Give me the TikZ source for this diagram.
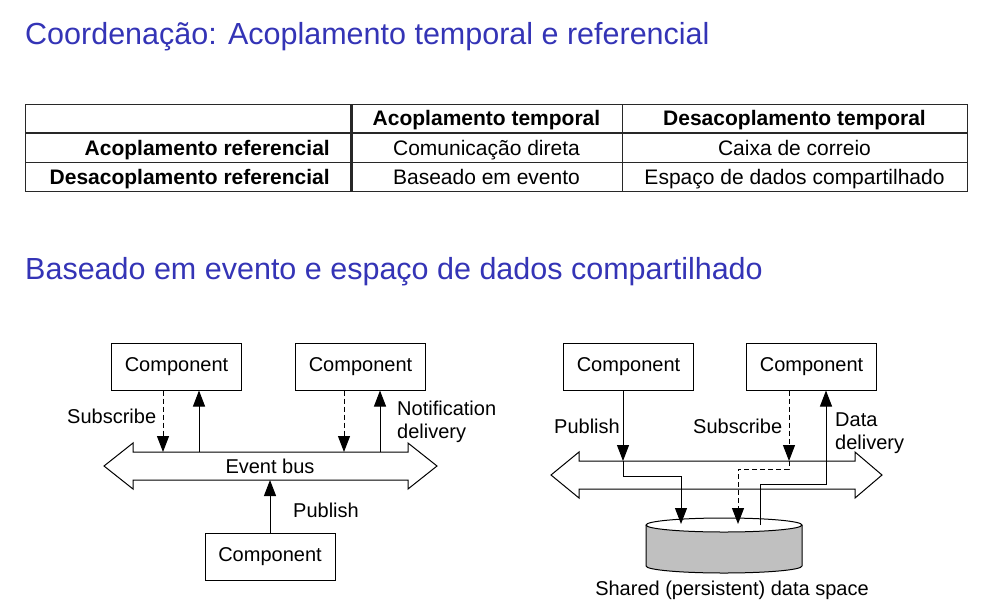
\documentclass[tikz,border=0pt]{standalone}
\usepackage{fontspec}
\setmainfont{Liberation Sans}
\usetikzlibrary{arrows.meta,calc}
\definecolor{titleblue}{RGB}{52,52,182}
\definecolor{tabline}{RGB}{40,40,40}
\definecolor{cylgray}{RGB}{192,192,192}
\begin{document}
\begin{tikzpicture}[x=1pt,y=1pt,
  comp/.style={draw, line width=1pt, minimum width=130pt, minimum height=47pt, inner sep=0pt, font=\fontsize{20}{24}\selectfont},
  lbl/.style={inner sep=0pt, font=\fontsize{20}{23}\selectfont, align=left},
  tabt/.style={inner sep=0pt, font=\fontsize{21}{25}\selectfont},
  tabb/.style={inner sep=0pt, font=\fontsize{21}{25}\selectfont\bfseries},
  ttl/.style={inner sep=0pt, anchor=base west, text=titleblue, font=\fontsize{30.5}{36}\selectfont},
  tline/.style={draw=tabline, line width=1pt},
  conn/.style={line width=1pt, -{Triangle[length=16pt,width=12pt]}},
  dconn/.style={conn, dash pattern=on 5pt off 3pt},
  bus/.style={draw, line width=1pt, fill=white, line join=miter}
]
\useasboundingbox (0,0) rectangle (987,-608);

% titles
\node[ttl] (t1) at (25,-44) {Coordenação: Acoplamento temporal e referencial};
\node[ttl] (t2) at (25,-279) {Baseado em evento e espaço de dados compartilhado};

% table
\draw[tline] (25,-104) rectangle (967,-191);
\draw[tline, line width=2.5pt] (25,-133) -- (967,-133);
\draw[tline] (25,-162) -- (967,-162);
\draw[tline, line width=3pt] (351,-104) -- (351,-191);
\draw[tline] (622,-104) -- (622,-191);
\node[tabb, anchor=base] (h1) at (486.5,-125) {Acoplamento temporal};
\node[tabb, anchor=base] (h2) at (794.5,-125) {Desacoplamento temporal};
\node[tabb, anchor=base east] (r1) at (330,-155) {Acoplamento referencial};
\node[tabb, anchor=base east] (r2) at (330,-184) {Desacoplamento referencial};
\node[tabt, anchor=base] (a11) at (486.5,-155) {Comunicação direta};
\node[tabt, anchor=base] (a12) at (794.5,-155) {Caixa de correio};
\node[tabt, anchor=base] (a21) at (486.5,-184) {Baseado em evento};
\node[tabt, anchor=base] (a22) at (794.5,-184) {Espaço de dados compartilhado};

% ---------- left diagram ----------
\draw[bus] (104,-466) -- (133,-443) -- (133,-452) -- (408,-452) -- (408,-443) -- (437,-466)
  -- (408,-489) -- (408,-480) -- (133,-480) -- (133,-489) -- cycle;
\node[lbl, anchor=base] (eb) at (270,-473) {Event bus};

\node[comp] (c1) at (176.5,-366.5) {Component};
\node[comp] (c2) at (360.5,-366.5) {Component};
\node[comp] (c3) at (270,-556.5) {Component};

\coordinate (s1) at (163,-452);
\coordinate (n1) at (199,-452);
\coordinate (s2) at (344,-452);
\coordinate (n2) at (380,-452);
\coordinate (p1) at (270,-480);
\draw[dconn] (c1.south -| s1) -- (s1);
\draw[conn] (n1) -- (c1.south -| n1);
\draw[dconn] (c2.south -| s2) -- (s2);
\draw[conn] (n2) -- (c2.south -| n2);
\draw[conn] (c3.north) -- (p1);

\node[lbl, anchor=base west] (lsub) at (67,-423) {Subscribe};
\node[lbl, anchor=base west] (lnot) at (397,-438) {Notification\\delivery};
\node[lbl, anchor=base west] (lpub) at (293,-517) {Publish};

% ---------- right diagram ----------
\draw[bus] (551,-475) -- (579,-452) -- (579,-461) -- (855,-461) -- (855,-452) -- (882,-475)
  -- (855,-498) -- (855,-489) -- (579,-489) -- (579,-498) -- cycle;

% cylinder
\fill[cylgray] (646,-525) -- (646,-566) arc[start angle=180, end angle=360, x radius=78pt, y radius=7pt]
  -- (802,-525) -- cycle;
\draw[line width=1pt] (646,-525) -- (646,-566) arc[start angle=180, end angle=360, x radius=78pt, y radius=7pt]
  -- (802,-525);
\draw[line width=1pt, fill=white] (724,-525) ellipse[x radius=78pt, y radius=7pt];
\node[lbl, anchor=base] (dsl) at (732,-595) {Shared (persistent) data space};

\node[comp] (c4) at (628.5,-366.5) {Component};
\node[comp] (c5) at (811.5,-366.5) {Component};

\coordinate (q1) at (623,-461);
\coordinate (q2) at (623,-476);
\coordinate (q3) at (681,-476);
\coordinate (q4) at (681,-524);
\draw[conn] (c4.south -| q1) -- (q1);
\draw[conn] (q1) -- (q2) -- (q3) -- (q4);

\coordinate (u1) at (789,-461);
\coordinate (u2) at (789,-469);
\coordinate (u3) at (738,-469);
\coordinate (u4) at (738,-524);
\draw[dconn] (c5.south -| u1) -- (u1);
\draw[dconn] (u1) -- (u2) -- (u3) -- (u4);

\coordinate (v1) at (760,-525);
\coordinate (v2) at (760,-484);
\coordinate (v3) at (826,-484);
\draw[conn] (v1) -- (v2) -- (v3) -- (c5.south -| v3);

\node[lbl, anchor=base west] (rpub) at (554,-433) {Publish};
\node[lbl, anchor=base west] (rsub) at (693,-433) {Subscribe};
\node[lbl, anchor=base west] (rdat) at (835,-449) {Data\\delivery};
\end{tikzpicture}
\end{document}
